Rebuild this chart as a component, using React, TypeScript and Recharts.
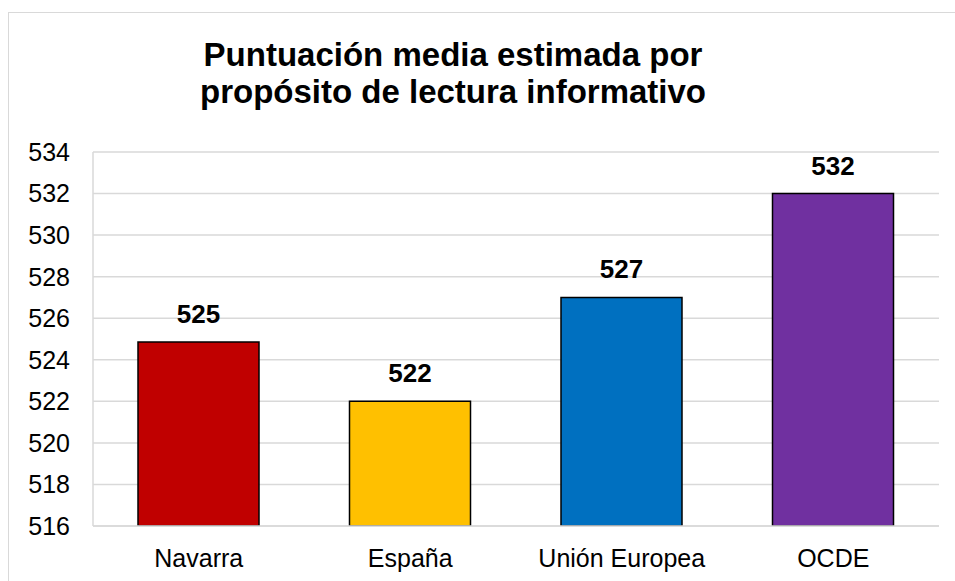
import React from 'react';
import { BarChart, Bar, XAxis, YAxis, CartesianGrid, Cell, LabelList } from 'recharts';

const regions = ['Navarra', 'España', 'Unión Europea', 'OCDE'];
const scores = [524.85, 522, 527, 532];
const barColors = ['#C00000', '#FFC000', '#0070C0', '#7030A0'];
const yTicks = [516, 518, 520, 522, 524, 526, 528, 530, 532, 534];
const titleLines = ['Puntuación media estimada por', 'propósito de lectura informativo'];

const FONT = '"Liberation Sans", Arial, sans-serif';
const GRID = '#d9d9d9';

export default function App() {
  const data = regions.map((name, i) => ({ name, score: scores[i] }));

  return (
    <div
      style={{
        position: 'fixed',
        left: 0,
        top: 0,
        width: 955,
        height: 581,
        overflow: 'hidden',
        background: '#fff',
        fontFamily: FONT,
      }}
    >
      {/* outer chart frame, runs off the right and bottom edges */}
      <div
        style={{
          position: 'absolute',
          left: 8,
          top: 12,
          width: 980,
          height: 620,
          border: `1px solid ${GRID}`,
          boxSizing: 'border-box',
        }}
      />

      {/* Title */}
      <div
        style={{
          position: 'absolute',
          left: 453 - 400,
          top: 36,
          width: 800,
          textAlign: 'center',
          fontWeight: 'bold',
          fontSize: 33,
          lineHeight: '37px',
          color: '#000',
        }}
      >
        {titleLines.map((line) => (
          <div key={line}>{line}</div>
        ))}
      </div>

      <div style={{ position: 'absolute', left: 0, top: 0 }}>
        <BarChart
          width={955}
          height={581}
          data={data}
          margin={{ top: 152, right: 16, bottom: 0, left: 0 }}
          barSize={121}
        >
          <CartesianGrid vertical={false} stroke={GRID} strokeWidth={1.5} />
          <XAxis
            dataKey="name"
            height={55}
            axisLine={{ stroke: GRID, strokeWidth: 1.5 }}
            tickLine={false}
            tickSize={0}
            tickMargin={23}
            interval={0}
            tick={{ fill: '#000', fontSize: 25, fontFamily: FONT }}
          />
          <YAxis
            width={93}
            domain={[516, 534]}
            ticks={yTicks}
            interval={0}
            allowDataOverflow
            axisLine={{ stroke: GRID, strokeWidth: 1.5 }}
            tickLine={false}
            tickSize={0}
            tickMargin={23}
            tick={{ fill: '#000', fontSize: 25, fontFamily: FONT }}
          />
          <YAxis
            yAxisId="frame"
            orientation="right"
            width={0}
            domain={[516, 534]}
            tick={false}
            tickLine={false}
            axisLine={{ stroke: GRID, strokeWidth: 1.5 }}
          />
          <Bar dataKey="score" stroke="#000" strokeWidth={1.5} isAnimationActive={false}>
            {data.map((d, i) => (
              <Cell key={d.name} fill={barColors[i]} />
            ))}
            <LabelList
              dataKey="score"
              position="top"
              offset={19}
              formatter={(v: number) => Math.round(v)}
              style={{ fill: '#000', fontSize: 26, fontWeight: 'bold', fontFamily: FONT }}
            />
          </Bar>
        </BarChart>
      </div>
    </div>
  );
}
